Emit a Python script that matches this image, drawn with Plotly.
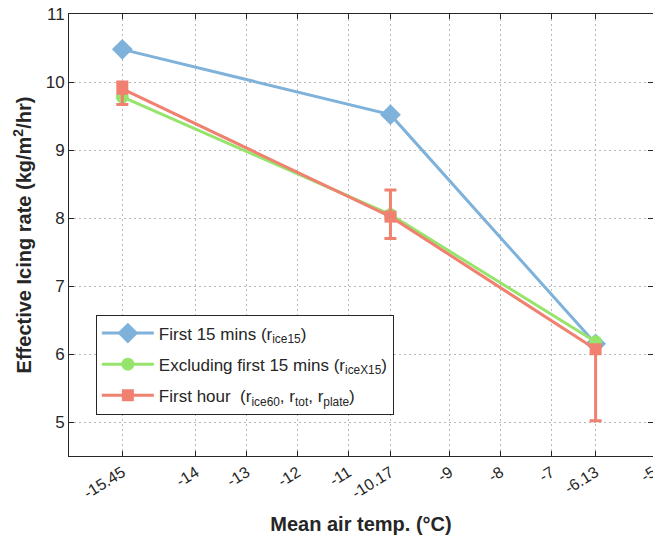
import plotly.graph_objects as go

temps = [-15.45, -10.17, -6.13]
first15 = [10.48, 9.52, 6.15]
excl15 = [9.78, 8.05, 6.18]
first_hour = [9.90, 8.02, 6.07]
err_plus = [0.10, 0.39, 0.05]
err_minus = [0.23, 0.32, 1.05]

x_ticks = [-15.45, -14, -13, -12, -11, -10.17, -9, -8, -7, -6.13, -5]
x_tick_labels = ["-15.45", "-14", "-13", "-12", "-11", "-10.17", "-9", "-8", "-7", "-6.13", "-5"]
y_ticks = [5, 6, 7, 8, 9, 10, 11]

blue = "rgb(126,178,218)"
green = "rgb(150,228,108)"
red = "rgb(240,128,112)"

fig = go.Figure()
fig.add_trace(go.Scatter(
    x=temps, y=first15, mode="lines+markers",
    name="First 15 mins (r<sub>ice15</sub>)", legendgroup="a",
    line=dict(color=blue, width=3),
    marker=dict(symbol="diamond", size=16, color=blue),
))
fig.add_trace(go.Scatter(
    x=temps, y=excl15, mode="lines+markers",
    name="Excluding first 15 mins (r<sub>iceX15</sub>)", legendgroup="b",
    line=dict(color=green, width=3),
    marker=dict(symbol="circle", size=13, color=green),
))
fig.add_trace(go.Scatter(
    x=temps, y=first_hour, mode="lines+markers",
    name="First hour  (r<sub>ice60</sub>, r<sub>tot</sub>, r<sub>plate</sub>)", legendgroup="c",
    line=dict(color=red, width=3),
    marker=dict(symbol="square", size=12, color=red),
    error_y=dict(type="data", symmetric=False, array=err_plus, arrayminus=err_minus,
                 color=red, thickness=3, width=6),
))

fig.update_layout(
    width=661, height=541,
    margin=dict(l=61, r=16, t=6, b=93, autoexpand=False),
    plot_bgcolor="white", paper_bgcolor="white",
    font=dict(family="Liberation Sans, Arial, sans-serif", size=16, color="#262626"),
    showlegend=True,
    legend=dict(x=0.046, y=0.32, xanchor="left", yanchor="top",
                bgcolor="white", bordercolor="#262626", borderwidth=1,
                font=dict(size=17, color="#262626"),
                traceorder="grouped", tracegroupgap=6,
                itemwidth=52),
)
fig.update_xaxes(
    range=[-16.5, -5], tickvals=x_ticks, ticktext=x_tick_labels, tickangle=-32,
    showgrid=True, gridcolor="#b8b8b8", griddash="2px,3px", gridwidth=1,
    showline=True, linecolor="#262626", linewidth=1, mirror="ticks",
    ticks="inside", ticklen=5, tickcolor="#262626", zeroline=False,
    tickfont=dict(size=16), ticklabeloverflow="allow",
    title=dict(text="<b>Mean air temp. (°C)</b>", font=dict(size=20), standoff=16),
    automargin=False,
)
fig.update_yaxes(
    range=[4.5, 11], tickvals=y_ticks,
    showgrid=True, gridcolor="#b8b8b8", griddash="2px,3px", gridwidth=1,
    showline=True, linecolor="#262626", linewidth=1, mirror="ticks",
    ticks="inside", ticklen=5, tickcolor="#262626", zeroline=False,
    tickfont=dict(size=17), ticklabeloverflow="allow",
    title=dict(text="<b>Effective Icing rate (kg/m<sup>2</sup>/hr)</b>", font=dict(size=20), standoff=8),
    automargin=False,
)

fig.write_html("out.html")
